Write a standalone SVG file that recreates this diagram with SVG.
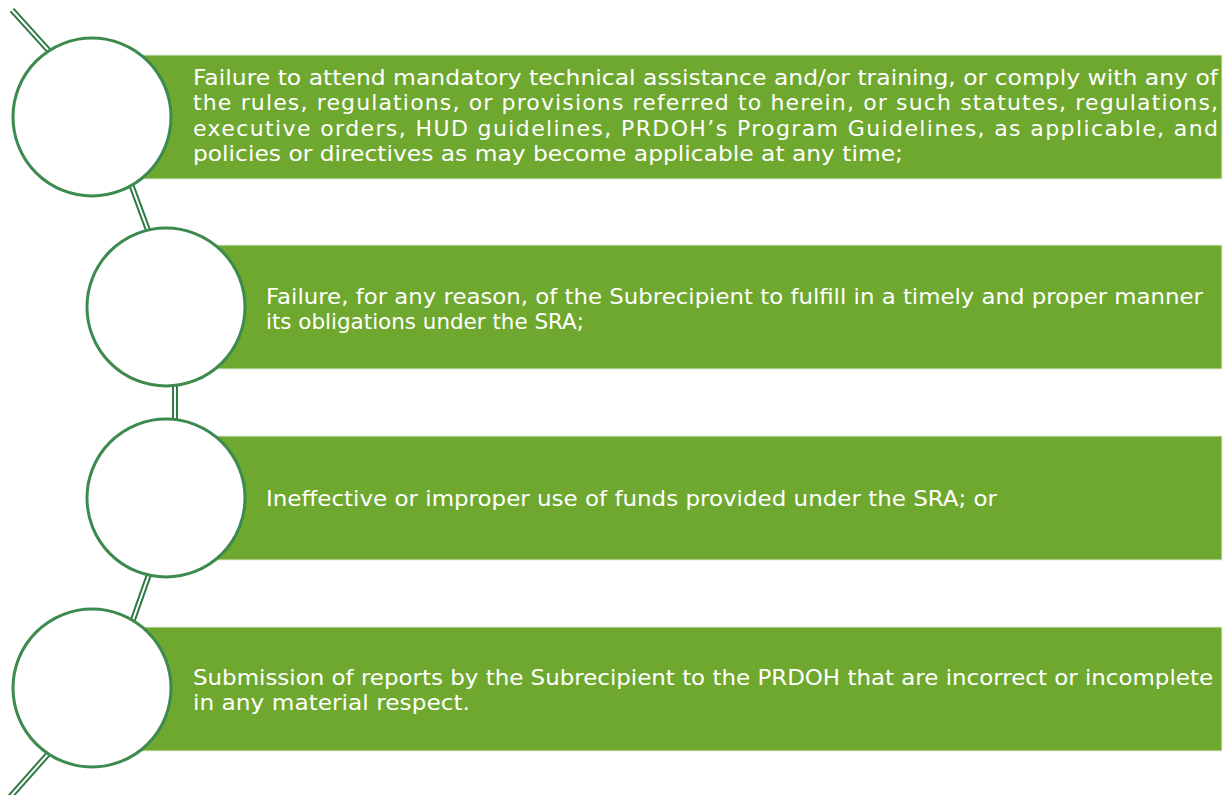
<svg xmlns="http://www.w3.org/2000/svg" width="1225" height="795" viewBox="0 0 1225 795">
<style>
.bar{fill:#6FA82F;stroke:#e4eedb;stroke-width:1}
.c{fill:#ffffff;stroke:#3C8A4E;stroke-width:3}
.t{font-family:"DejaVu Sans","Liberation Sans",sans-serif;font-size:22px;fill:#ffffff}
.lo{stroke:#2F7A45;stroke-width:6;fill:none}
.li{stroke:#ffffff;stroke-width:2;fill:none}
</style>
<rect width="1225" height="795" fill="#ffffff"/>
<g id="connectors">
<path class="lo" d="M12,10 L60,63 M128,176 L152,241 M175,380 L175,425 M152,566 L129,631 M57,744 L10,797"/>
<path class="li" d="M12,10 L60,63 M128,176 L152,241 M175,380 L175,425 M152,566 L129,631 M57,744 L10,797"/>
</g>
<g id="node1">
<rect class="bar" x="92" y="55" width="1130" height="124"/>
<circle class="c" cx="92" cy="117" r="79"/>
<text class="t" x="193" y="85" textLength="1025" lengthAdjust="spacingAndGlyphs">Failure to attend mandatory technical assistance and/or training, or comply with any of</text>
<text class="t" x="193" y="110" textLength="1025" lengthAdjust="spacing">the rules, regulations, or provisions referred to herein, or such statutes, regulations,</text>
<text class="t" x="193" y="136" textLength="1025" lengthAdjust="spacing">executive orders, HUD guidelines, PRDOH’s Program Guidelines, as applicable, and</text>
<text class="t" x="193" y="161" textLength="710" lengthAdjust="spacingAndGlyphs">policies or directives as may become applicable at any time;</text>
</g>
<g id="node2">
<rect class="bar" x="166" y="245" width="1056" height="124"/>
<circle class="c" cx="166" cy="307" r="79"/>
<text class="t" x="266" y="304" textLength="937" lengthAdjust="spacingAndGlyphs">Failure, for any reason, of the Subrecipient to fulfill in a timely and proper manner</text>
<text class="t" x="266" y="329" textLength="318" lengthAdjust="spacingAndGlyphs">its obligations under the SRA;</text>
</g>
<g id="node3">
<rect class="bar" x="166" y="436" width="1056" height="124"/>
<circle class="c" cx="166" cy="498" r="79"/>
<text class="t" x="266" y="506" textLength="731" lengthAdjust="spacingAndGlyphs">Ineffective or improper use of funds provided under the SRA; or</text>
</g>
<g id="node4">
<rect class="bar" x="92" y="627" width="1130" height="124"/>
<circle class="c" cx="92" cy="688" r="79"/>
<text class="t" x="193" y="685" textLength="1020" lengthAdjust="spacingAndGlyphs">Submission of reports by the Subrecipient to the PRDOH that are incorrect or incomplete</text>
<text class="t" x="193" y="710" textLength="277" lengthAdjust="spacingAndGlyphs">in any material respect.</text>
</g>
</svg>
